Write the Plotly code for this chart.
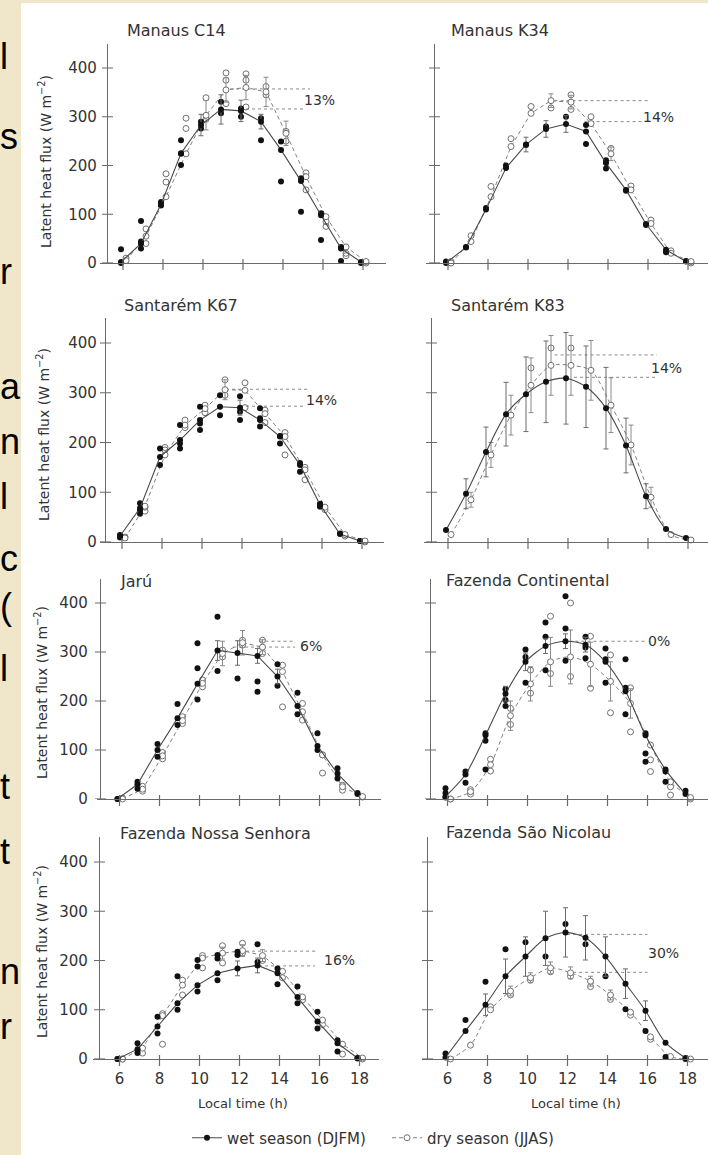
import plotly.graph_objects as go

W, H = 708, 1155

# ---------------- data ----------------
hours_wet = [5.9, 6.9, 7.9, 8.9, 9.9, 10.9, 11.9, 12.9, 13.9, 14.9, 15.9, 16.9, 17.9]
hours_dry = [6.15, 7.15, 8.15, 9.15, 10.15, 11.15, 12.15, 13.15, 14.15, 15.15, 16.15, 17.15, 18.15]
x_ticks = [6, 8, 10, 12, 14, 16, 18]
x_tick_text = ["6", "8", "10", "12", "14", "16", "18"]
y_ticks = [0, 100, 200, 300, 400]
y_tick_text = ["0", "100", "200", "300", "400"]

site_names = ["Manaus C14", "Manaus K34", "Santarém K67", "Santarém K83",
              "Jarú", "Fazenda Continental", "Fazenda Nossa Senhora", "Fazenda São Nicolau"]
pct_labels = ["13%", "14%", "14%", "14%", "6%", "0%", "16%", "30%"]
pct_hour = [14.95, 15.65, 15.1, 16.05, 14.93, 15.9, 16.13, 15.9]
pct_value = [334, 300, 285, 350, 312, 322, 201, 215]
ref_upper = [357, 333, 307, 376, 322, 322, 219, 253]
ref_upper_from = [11.35, 11.33, 11.2, 11.33, 13.0, 12.1, 12.03, 11.98]
ref_upper_to = [15.35, 16.0, 15.35, 16.45, 14.78, 15.85, 15.78, 16.0]
ref_lower = [316, 290, 273, 331, 310, None, 189, 176]
ref_lower_from = [11.85, 12.83, 12.2, 12.3, 11.68, None, 12.68, 11.98]
ref_lower_to = [15.1, 15.85, 15.1, 16.45, 14.78, None, 15.78, 16.0]

# Manaus C14
c14_wet_mean = [2, 40, 120, 225, 283, 315, 312, 290, 232, 168, 98, 30, 2]
c14_wet_err = [0, 0, 0, 0, 22, 30, 22, 15, 0, 0, 0, 0, 0]
c14_wet_pts = [[28, 0], [86, 30, 44], [118, 125], [252, 224, 201], [290, 276], [331, 307],
               [317, 300], [297, 252], [249, 167], [174, 105], [102, 47], [33, 4], [0]]
c14_dry_mean = [5, 55, 136, 224, 303, 355, 360, 351, 266, 177, 95, 33, 3]
c14_dry_err = [0, 0, 0, 0, 30, 25, 25, 30, 25, 0, 0, 0, 0]
c14_dry_pts = [[10], [40, 70], [166, 183], [276, 297], [339, 295], [375, 327, 390],
               [388, 375, 320], [362, 345], [270, 250], [185, 150], [85, 75], [20, 15], [0]]
# Manaus K34
k34_wet_mean = [0, 32, 110, 195, 243, 275, 285, 270, 205, 150, 80, 27, 3]
k34_wet_err = [0, 0, 0, 0, 15, 17, 17, 0, 0, 0, 0, 0, 0]
k34_wet_pts = [[3], [33], [113], [200], [242], [280], [300], [283, 244], [211, 194], [148], [78], [22], [4]]
k34_dry_mean = [0, 44, 136, 239, 307, 333, 330, 286, 224, 150, 81, 20, 3]
k34_dry_err = [0, 0, 0, 0, 0, 14, 14, 0, 14, 0, 0, 0, 0]
k34_dry_pts = [[3], [56], [157], [255], [321], [318], [345, 315], [300], [235], [158], [88], [25], [0]]
# Santarém K67
k67_wet_mean = [12, 68, 171, 205, 245, 272, 270, 245, 212, 155, 75, 16, 2]
k67_wet_err = [0, 0, 0, 0, 0, 0, 15, 0, 0, 0, 0, 0, 0]
k67_wet_pts = [[14, 9], [78, 64, 57], [188, 155], [235, 198, 188], [272, 238, 225], [295, 255],
               [293, 262, 245], [269, 249, 232], [213, 198], [159, 141], [77, 71], [17], [2]]
k67_dry_mean = [8, 72, 175, 235, 268, 306, 305, 258, 212, 145, 70, 15, 2]
k67_dry_err = [0, 0, 0, 0, 0, 20, 0, 0, 0, 0, 0, 0, 0]
k67_dry_pts = [[10], [70, 62], [190, 185], [245, 230], [275, 260], [326, 295], [320, 270],
               [265, 240], [220, 175], [150, 125], [65], [12], [0]]
# Santarém K83
k83_wet_mean = [24, 97, 181, 257, 297, 322, 329, 312, 269, 194, 92, 26, 8]
k83_wet_err = [0, 30, 50, 64, 75, 82, 92, 82, 82, 55, 25, 0, 0]
k83_wet_pts = [[], [], [], [], [], [], [], [], [], [], [], [], []]
k83_dry_mean = [15, 85, 175, 255, 315, 355, 355, 345, 275, 195, 90, 15, 4]
k83_dry_err = [0, 15, 25, 40, 55, 60, 60, 60, 55, 40, 20, 0, 0]
k83_dry_pts = [[], [], [], [], [350], [390], [390], [], [], [], [], [], []]
# Jarú
jaru_wet_mean = [0, 30, 100, 165, 235, 303, 298, 292, 250, 190, 108, 52, 10]
jaru_wet_err = [0, 0, 0, 0, 0, 20, 25, 15, 15, 0, 0, 0, 0]
jaru_wet_pts = [[0], [35, 21], [112, 86], [194, 151], [318, 267, 203], [372, 261], [246],
                [240, 219], [275, 231], [217, 173], [134, 100], [63, 42], [12]]
jaru_dry_mean = [0, 20, 88, 160, 236, 297, 319, 310, 260, 178, 90, 25, 5]
jaru_dry_err = [0, 0, 0, 0, 0, 25, 25, 15, 0, 0, 0, 0, 0]
jaru_dry_pts = [[2], [26, 16], [95, 82], [168, 154], [243, 229], [304, 290], [324, 314],
                [324, 297], [273, 188], [195, 161], [90, 53], [28, 18], [4]]
# Fazenda Continental
fc_wet_mean = [5, 50, 130, 215, 280, 312, 322, 315, 280, 220, 130, 60, 10]
fc_wet_err = [0, 0, 0, 15, 18, 15, 15, 15, 0, 0, 0, 0, 0]
fc_wet_pts = [[22, 12, 3], [56, 33], [134, 119, 60], [224, 202, 190], [305, 290, 237],
              [360, 331, 263], [414, 348, 282], [331, 309, 287], [307, 285, 237],
              [285, 227, 173], [134, 93, 76], [56, 35], [17]]
fc_dry_mean = [0, 15, 70, 170, 235, 280, 290, 275, 240, 195, 110, 35, 3]
fc_dry_err = [0, 0, 0, 30, 35, 50, 55, 45, 40, 30, 0, 0, 0]
fc_dry_pts = [[0], [19, 10], [81, 57], [185, 152], [263, 216], [373, 256], [400, 250],
              [332, 226], [294, 176], [227, 137], [80, 56], [25, 8], [0]]
# Fazenda Nossa Senhora
fns_wet_mean = [0, 20, 66, 113, 150, 174, 184, 190, 174, 126, 76, 32, 2]
fns_wet_err = [0, 0, 0, 0, 0, 0, 15, 15, 0, 0, 0, 0, 0]
fns_wet_pts = [[0], [32, 12], [86, 52], [168, 100], [201, 188, 137], [211, 204, 160],
               [218, 211], [233, 197], [184, 152], [147, 113], [96, 62], [38, 15], [1]]
fns_dry_mean = [0, 22, 88, 150, 205, 215, 220, 210, 178, 126, 79, 30, 2]
fns_dry_err = [0, 0, 0, 0, 0, 12, 12, 12, 0, 0, 0, 0, 0]
fns_dry_pts = [[0], [12], [92, 30], [160, 130], [210, 185], [230, 195], [235, 215],
               [200], [165], [120], [70], [10], [0]]
# Fazenda São Nicolau
fsn_wet_mean = [3, 57, 110, 168, 208, 245, 257, 246, 208, 153, 98, 33, 2]
fsn_wet_err = [0, 0, 22, 35, 40, 55, 50, 45, 40, 30, 20, 0, 0]
fsn_wet_pts = [[11], [79], [157], [223], [237], [208], [274], [233], [168], [101], [57], [4], [0]]
fsn_dry_mean = [0, 28, 100, 138, 165, 185, 175, 158, 130, 95, 45, 5, 0]
fsn_dry_err = [0, 0, 0, 10, 10, 12, 12, 10, 10, 0, 0, 0, 0]
fsn_dry_pts = [[], [], [106], [130], [160], [177], [168], [147], [121], [89], [40], [], []]

wet_means = [c14_wet_mean, k34_wet_mean, k67_wet_mean, k83_wet_mean, jaru_wet_mean, fc_wet_mean, fns_wet_mean, fsn_wet_mean]
wet_errs = [c14_wet_err, k34_wet_err, k67_wet_err, k83_wet_err, jaru_wet_err, fc_wet_err, fns_wet_err, fsn_wet_err]
wet_ptss = [c14_wet_pts, k34_wet_pts, k67_wet_pts, k83_wet_pts, jaru_wet_pts, fc_wet_pts, fns_wet_pts, fsn_wet_pts]
dry_means = [c14_dry_mean, k34_dry_mean, k67_dry_mean, k83_dry_mean, jaru_dry_mean, fc_dry_mean, fns_dry_mean, fsn_dry_mean]
dry_errs = [c14_dry_err, k34_dry_err, k67_dry_err, k83_dry_err, jaru_dry_err, fc_dry_err, fns_dry_err, fsn_dry_err]
dry_ptss = [c14_dry_pts, k34_dry_pts, k67_dry_pts, k83_dry_pts, jaru_dry_pts, fc_dry_pts, fns_dry_pts, fsn_dry_pts]
smooth_line = [False, False, False, True, False, True, False, True]

# background slide letters (visible in the strip left of the figure)
bg_letters = ["l", "s", "r", "a", "n", "l", "c", "(", "l", "t", "t", "n", "r"]
bg_letter_y = [60, 140, 275, 390, 445, 500, 562, 610, 672, 790, 855, 975, 1030]

# ---------------- layout geometry (pixels) ----------------
row_y0 = [263, 542, 799, 1059]          # pixel of value 0
row_scale = [0.4875, 0.4975, 0.49, 0.4925]  # pixels per W m-2
x6_px = [123, 448, 122, 448, 119.5, 447.5, 119.5, 447.5]
yaxis_px = [107, 434, 105, 431, 100, 430, 99, 427]
xl_px = [100, 426, 100, 424, 97, 426, 93, 422]
xr_px = [386, 708, 384, 708, 381, 708, 379, 708]
title_x_px = [125, 449, 122, 449, 118, 444, 118, 444]
title_y_px = [30, 30, 305, 305, 581, 580, 833, 832]
ytitle_x_px = [45, 43, 41, 41]
ytitle_y_px = [162, 435, 693, 952]
standoff = [7, 5, 9, 8]
PX_PER_H = 20.0
VMAX = 450

TXT = "#333333"
AX = "#6a6a6a"
FONT = "DejaVu Sans"

fig = go.Figure()
layout = dict(width=W, height=H, margin=dict(l=0, r=0, t=0, b=0, autoexpand=False),
              paper_bgcolor="#F0E7CB", plot_bgcolor="rgba(0,0,0,0)",
              font=dict(family=FONT, color=TXT), showlegend=True)
shapes = [dict(type="rect", xref="paper", yref="paper", x0=21 / W, x1=1, y0=0, y1=1 - 3 / H,
               fillcolor="white", line=dict(width=0), layer="below")]
annotations = []

for k in range(8):
    r, c = k // 2, k % 2
    sfx = "" if k == 0 else str(k + 1)
    xa, ya = "x" + sfx, "y" + sfx
    y0 = row_y0[r]
    ytop = y0 - VMAX * row_scale[r]
    x0h = 6 + (xl_px[k] - x6_px[k]) / PX_PER_H
    x1h = 6 + (xr_px[k] - x6_px[k]) / PX_PER_H
    bottom = (r == 3)
    left = (c == 0)
    layout["xaxis" + sfx] = dict(domain=[xl_px[k] / W, xr_px[k] / W], range=[x0h, x1h], anchor=ya,
                                 showline=True, linecolor=AX, linewidth=1.2, ticks="",
                                 showgrid=False, zeroline=False, tickvals=x_ticks, ticktext=x_tick_text,
                                 showticklabels=bottom, tickfont=dict(size=15, color=TXT),
                                 ticklabelstandoff=6)
    layout["yaxis" + sfx] = dict(domain=[1 - y0 / H, 1 - ytop / H], range=[0, VMAX], anchor="free",
                                 position=yaxis_px[k] / W, showline=True, linecolor=AX, linewidth=1.2,
                                 ticks="", showgrid=False, zeroline=False, tickvals=y_ticks,
                                 ticktext=y_tick_text, showticklabels=left,
                                 tickfont=dict(size=15, color=TXT), ticklabelstandoff=standoff[r])
    # crossing tick marks
    for t in y_ticks:
        shapes.append(dict(type="line", xref="paper", yref=ya, x0=(yaxis_px[k] - 5) / W,
                           x1=(yaxis_px[k] + 6) / W, y0=t, y1=t, line=dict(color=AX, width=1.2)))
    for t in x_ticks:
        shapes.append(dict(type="line", xref=xa, yref="paper", x0=t, x1=t, y0=1 - (y0 + 7) / H,
                           y1=1 - (y0 - 4) / H, line=dict(color=AX, width=1.2)))

    shape_mode = "spline" if smooth_line[k] else "linear"
    # reference dotted lines
    rx, ry = [ref_upper_from[k], ref_upper_to[k]], [ref_upper[k], ref_upper[k]]
    if ref_lower[k] is not None:
        rx += [None, ref_lower_from[k], ref_lower_to[k]]
        ry += [None, ref_lower[k], ref_lower[k]]
    fig.add_trace(go.Scatter(x=rx, y=ry, mode="lines", xaxis=xa, yaxis=ya, showlegend=False,
                             line=dict(color="#8a8a8a", width=1, dash="dot"), hoverinfo="skip"))
    # dry season
    dpx, dpy = [], []
    for h, vals in zip(hours_dry, dry_ptss[k]):
        for v in vals:
            dpx.append(h)
            dpy.append(v)
    fig.add_trace(go.Scatter(x=dpx, y=dpy, mode="markers", xaxis=xa, yaxis=ya, showlegend=False,
                             cliponaxis=False,
                             marker=dict(symbol="circle-open", size=6, color="#707070", line=dict(width=1))))
    fig.add_trace(go.Scatter(x=hours_dry, y=dry_means[k], mode="lines+markers", xaxis=xa, yaxis=ya,
                             showlegend=False, cliponaxis=False,
                             line=dict(color="#808080", width=1, dash="4px,3px", shape=shape_mode, smoothing=0.8),
                             marker=dict(symbol="circle", size=6, color="white", line=dict(color="#707070", width=1)),
                             error_y=dict(type="data", array=[e if e else None for e in dry_errs[k]],
                                          color="#8a8a8a", thickness=1, width=2.5)))
    # wet season
    wpx, wpy = [], []
    for h, vals in zip(hours_wet, wet_ptss[k]):
        for v in vals:
            wpx.append(h)
            wpy.append(v)
    fig.add_trace(go.Scatter(x=wpx, y=wpy, mode="markers", xaxis=xa, yaxis=ya, showlegend=False,
                             cliponaxis=False, marker=dict(symbol="circle", size=6, color="#111111")))
    fig.add_trace(go.Scatter(x=hours_wet, y=wet_means[k], mode="lines+markers", xaxis=xa, yaxis=ya,
                             showlegend=False, cliponaxis=False,
                             line=dict(color="#4a4a4a", width=1.1, shape=shape_mode, smoothing=0.8),
                             marker=dict(symbol="circle", size=6, color="#111111"),
                             error_y=dict(type="data", array=[e if e else None for e in wet_errs[k]],
                                          color="#6a6a6a", thickness=1, width=2.5)))
    # labels
    annotations.append(dict(text=site_names[k], xref="paper", yref="paper", x=title_x_px[k] / W,
                            y=1 - title_y_px[k] / H, xanchor="left", yanchor="middle", showarrow=False,
                            font=dict(size=16, color=TXT, family=FONT)))
    annotations.append(dict(text=pct_labels[k], xref=xa, yref=ya, x=pct_hour[k], y=pct_value[k],
                            xanchor="left", yanchor="middle", showarrow=False,
                            font=dict(size=14, color=TXT, family=FONT)))
    if left:
        annotations.append(dict(text="Latent heat flux (W m<sup>−2</sup>)", xref="paper", yref="paper",
                                x=ytitle_x_px[r] / W, y=1 - ytitle_y_px[r] / H, textangle=-90,
                                xanchor="center", yanchor="middle", showarrow=False,
                                font=dict(size=14, color=TXT, family=FONT)))
    if bottom:
        annotations.append(dict(text="Local time (h)", xref="paper", yref="paper",
                                x=(243 if left else 576) / W, y=1 - 1103 / H, xanchor="center",
                                yanchor="middle", showarrow=False, font=dict(size=13, color=TXT, family=FONT)))

# legend entries
fig.add_trace(go.Scatter(x=[None], y=[None], mode="lines+markers", name="wet season (DJFM)",
                         line=dict(color="#4a4a4a", width=1.1), marker=dict(size=6, color="#111111")))
fig.add_trace(go.Scatter(x=[None], y=[None], mode="lines+markers", name="dry season (JJAS)",
                         line=dict(color="#808080", width=1, dash="4px,3px"),
                         marker=dict(size=6, color="white", line=dict(color="#707070", width=1))))

# background slide letters in the left strip
layout["xaxis9"] = dict(domain=[0, 21 / W], range=[0, 21], visible=False, anchor="y9")
layout["yaxis9"] = dict(domain=[0, 1], range=[H, 0], visible=False, anchor="x9")
fig.add_trace(go.Scatter(x=[0] * len(bg_letters), y=bg_letter_y, text=bg_letters, mode="text",
                         textposition="middle right", xaxis="x9", yaxis="y9", showlegend=False,
                         cliponaxis=False, textfont=dict(family="Liberation Sans", size=36, color="black"),
                         hoverinfo="skip"))

layout["legend"] = dict(orientation="h", x=187 / W, xanchor="left", y=1 - 1138 / H, yanchor="middle",
                        font=dict(size=15, color=TXT, family=FONT), bgcolor="rgba(0,0,0,0)",
                        itemwidth=30, entrywidth=155, entrywidthmode="pixels")
layout["shapes"] = shapes
layout["annotations"] = annotations
fig.update_layout(**layout)
fig.write_html("out.html", config={"displayModeBar": False},
               post_script="document.body.style.margin='0';document.body.style.overflow='hidden';")
